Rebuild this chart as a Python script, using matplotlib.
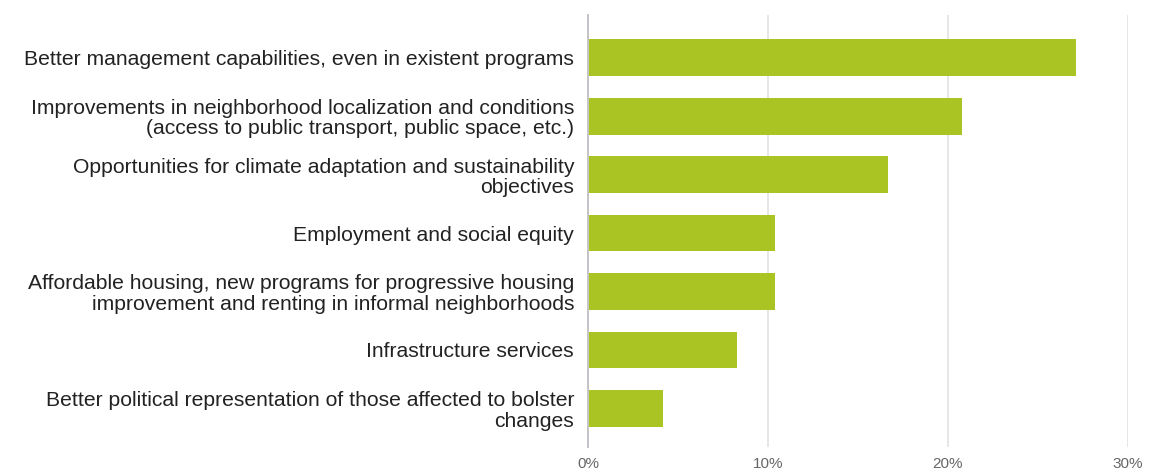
import matplotlib
matplotlib.use("Agg")
import matplotlib.pyplot as plt
from matplotlib.ticker import FuncFormatter

# Survey responses: share of respondents per priority (%)
categories = [
    "Better management capabilities, even in existent programs",
    "Improvements in neighborhood localization and conditions\n(access to public transport, public space, etc.)",
    "Opportunities for climate adaptation and sustainability\nobjectives",
    "Employment and social equity",
    "Affordable housing, new programs for progressive housing\nimprovement and renting in informal neighborhoods",
    "Infrastructure services",
    "Better political representation of those affected to bolster\nchanges",
]
shares = [27.1, 20.8, 16.7, 10.4, 10.4, 8.3, 4.2]
x_ticks = [0, 10, 20, 30]

plt.rcParams["font.family"] = ["Liberation Sans", "DejaVu Sans"]

fig = plt.figure(figsize=(11.55, 4.70), dpi=100)
ax = fig.add_axes([0.509, 0.049, 0.4675, 0.919])

positions = list(range(len(categories)))
ax.barh(positions, shares, height=0.63, color="#a9c423", zorder=3)

ax.set_xlim(0, 30)
ax.set_ylim(6.66, -0.73)
ax.set_xticks(x_ticks)
ax.xaxis.set_major_formatter(FuncFormatter(lambda v, _: f"{v:.0f}%"))
ax.set_yticks(positions)
ax.set_yticklabels(categories, fontsize=15.2, color="#222222", linespacing=1.08)

ax.tick_params(axis="y", length=0, pad=10)
ax.tick_params(axis="x", length=0, pad=7, labelsize=11, labelcolor="#666666")

ax.grid(axis="x", color="#e2e2e2", linewidth=1.2, zorder=0)
ax.grid(axis="y", visible=False)
for side in ("top", "right", "bottom"):
    ax.spines[side].set_visible(False)
ax.spines["left"].set_color("#c4c4c8")
ax.spines["left"].set_linewidth(1.4)
ax.spines["left"].set_zorder(4)

fig.savefig("out.png", dpi=100, facecolor="white")
